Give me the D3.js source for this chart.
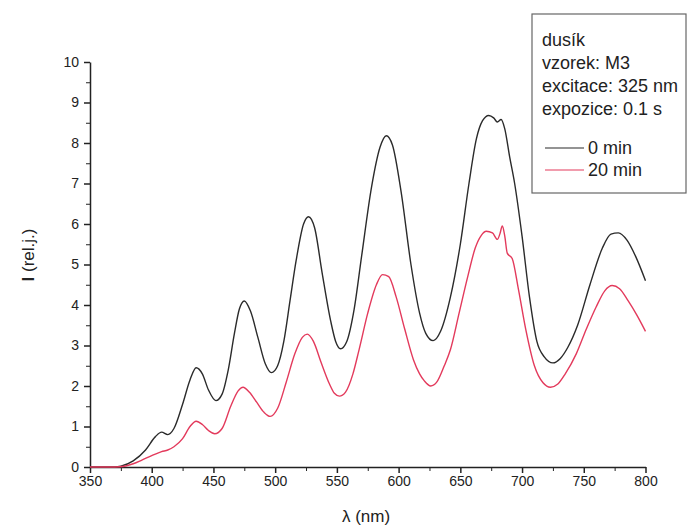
<!DOCTYPE html>
<meta charset="utf-8">
<style>
  body { margin: 0; background: #fff; }
  svg { font-family: Arial, "Liberation Sans", sans-serif; }
  .axis path, .axis line { stroke: #222; }
  .axis text { font-size: 14px; fill: #222; }
</style>
<svg width="689" height="531"></svg>
<script src="https://cdn.jsdelivr.net/npm/d3@7"></script>
<script>

// wavelength (nm) and intensity
var lambda0 = [350, 360, 370, 375, 385, 395, 403, 408, 413, 418, 425, 431, 436, 441, 446, 452, 457, 462, 467, 471, 475,
               480, 486, 492, 497, 502, 507, 512, 517, 523, 527, 532, 538, 545, 549, 553, 558, 564, 570, 578, 585, 590, 595,
               602, 610, 617, 622, 628, 634, 642, 650, 657, 663, 668, 673, 677, 680, 683, 686, 690, 694, 700, 706,
               712, 718, 725, 731, 737, 745, 755, 765, 772, 778, 785, 792, 800];
var int0 = [0, 0, 0, 0.02, 0.15, 0.42, 0.75, 0.86, 0.80, 0.95, 1.55, 2.15, 2.45, 2.3, 1.9, 1.64, 1.8, 2.4, 3.3, 3.9, 4.1,
            3.85, 3.2, 2.55, 2.33, 2.5, 3.1, 4.1, 5.1, 6.0, 6.18, 5.9, 4.8, 3.6, 3.1, 2.92, 3.1, 3.9, 5.2, 6.9, 7.9, 8.18, 7.95,
            6.8, 5.0, 3.8, 3.3, 3.12, 3.35, 4.2, 5.5, 7.0, 8.1, 8.55, 8.68, 8.62, 8.52, 8.58, 8.35, 7.65, 7.0, 5.7, 4.2,
            3.1, 2.72, 2.57, 2.68, 2.95, 3.5, 4.5, 5.4, 5.75, 5.78, 5.6, 5.2, 4.6];

var lambda20 = [350, 370, 378, 385, 392, 400, 408, 413, 418, 425, 431, 436, 441, 446, 451, 457, 464, 470, 474, 479,
                485, 491, 496, 502, 509, 516, 522, 526, 531, 537, 544, 548, 552, 557, 563, 568, 575, 582, 587, 592, 598,
                605, 612, 617, 621, 626, 631, 637, 642, 649, 656, 662, 667, 671, 676, 680, 682, 684, 686, 688, 692, 697,
                703, 710, 717, 723, 729, 735, 744, 752, 760, 767, 773, 779, 786, 793, 800];
var int20 = [0, 0, 0.02, 0.08, 0.17, 0.28, 0.38, 0.42, 0.5, 0.7, 1.0, 1.13, 1.05, 0.9, 0.82, 0.95, 1.5, 1.88, 1.97, 1.85,
             1.6, 1.35, 1.25, 1.45, 2.1, 2.8, 3.2, 3.28, 3.1, 2.6, 2.05, 1.82, 1.75, 1.85, 2.3, 2.9, 3.8, 4.5, 4.75, 4.7, 4.2,
             3.4, 2.65, 2.3, 2.12, 2.0, 2.1, 2.5, 2.9, 3.8, 4.7, 5.4, 5.72, 5.82, 5.78, 5.62, 5.75, 5.95, 5.7, 5.28, 5.15, 4.4,
             3.4, 2.5, 2.08, 1.97, 2.05, 2.3, 2.8, 3.4, 3.95, 4.35, 4.48, 4.4, 4.1, 3.75, 3.35];

var xTicks = [350, 400, 450, 500, 550, 600, 650, 700, 750, 800];
var yTicks = [0, 1, 2, 3, 4, 5, 6, 7, 8, 9, 10];
var infoLines = ["dusík", "vzorek: M3", "excitace: 325 nm", "expozice: 0.1 s"];
var seriesNames = ["0 min", "20 min"];
var seriesColors = ["#2b2b2b", "#e33a5c"];

var svg = d3.select("svg");

var x = d3.scaleLinear().domain([350, 800]).range([90, 645.5]);
var y = d3.scaleLinear().domain([0, 10]).range([467, 62]);

/*
 * Minor ticks first, then the major axes on top.
 */
svg.append("g")
    .attr("class", "axis")
    .attr("transform", "translate(0," + y(0) + ")")
    .call(d3.axisBottom(x).tickValues(d3.range(375, 800, 50)).tickSize(4).tickFormat(""))
    .select(".domain").remove();

svg.append("g")
    .attr("class", "axis")
    .attr("transform", "translate(" + x(350) + ",0)")
    .call(d3.axisLeft(y).tickValues(d3.range(0.5, 10, 1)).tickSize(4).tickFormat(""))
    .select(".domain").remove();

svg.append("g")
    .attr("class", "axis")
    .attr("transform", "translate(0," + y(0) + ")")
    .call(d3.axisBottom(x).tickValues(xTicks).tickSize(6).tickSizeOuter(0).tickPadding(3))
    .selectAll("path, line").attr("stroke-width", 1.5);

svg.append("g")
    .attr("class", "axis")
    .attr("transform", "translate(" + x(350) + ",0)")
    .call(d3.axisLeft(y).tickValues(yTicks).tickSize(6).tickSizeOuter(0).tickPadding(5))
    .selectAll("path, line").attr("stroke-width", 1.5);

/*
 * Axis titles.
 */
svg.append("text")
    .attr("x", 366)
    .attr("y", 522)
    .attr("text-anchor", "middle")
    .attr("font-size", 17)
    .attr("fill", "#222")
    .text("λ (nm)");

var yt = svg.append("text")
    .attr("text-anchor", "middle")
    .attr("transform", "translate(34,255)rotate(-90)")
    .attr("font-size", 17)
    .attr("fill", "#222");
yt.append("tspan").attr("font-weight", "bold").text("I");
yt.append("tspan").text(" (rel.j.)");

/*
 * Spectra.
 */
var line = d3.line()
    .x(function(d) { return x(d[0]); })
    .y(function(d) { return y(d[1]); })
    .curve(d3.curveMonotoneX);

var series = [d3.zip(lambda0, int0), d3.zip(lambda20, int20)];

svg.selectAll(".spectrum")
    .data(series)
  .enter().append("path")
    .attr("class", "spectrum")
    .attr("fill", "none")
    .attr("stroke", function(d, i) { return seriesColors[i]; })
    .attr("stroke-width", 1.4)
    .attr("d", line);

/*
 * Legend box with the measurement notes.
 */
var legend = svg.append("g").attr("transform", "translate(532,14)");

legend.append("rect")
    .attr("width", 154)
    .attr("height", 179)
    .attr("fill", "#fff")
    .attr("stroke", "#666")
    .attr("stroke-width", 1.2);

legend.selectAll(".info")
    .data(infoLines)
  .enter().append("text")
    .attr("class", "info")
    .attr("x", 10)
    .attr("y", function(d, i) { return 32 + i * 23; })
    .attr("font-size", 18)
    .attr("fill", "#222")
    .text(function(d) { return d; });

var entry = legend.selectAll(".entry")
    .data(seriesNames)
  .enter().append("g")
    .attr("class", "entry")
    .attr("transform", function(d, i) { return "translate(0," + (134 + i * 22) + ")"; });

entry.append("line")
    .attr("x1", 13)
    .attr("x2", 52)
    .attr("stroke", function(d, i) { return seriesColors[i]; })
    .attr("stroke-width", 1.2);

entry.append("text")
    .attr("x", 56)
    .attr("dy", "0.35em")
    .attr("font-size", 18)
    .attr("fill", "#222")
    .text(function(d) { return d; });
</script>
